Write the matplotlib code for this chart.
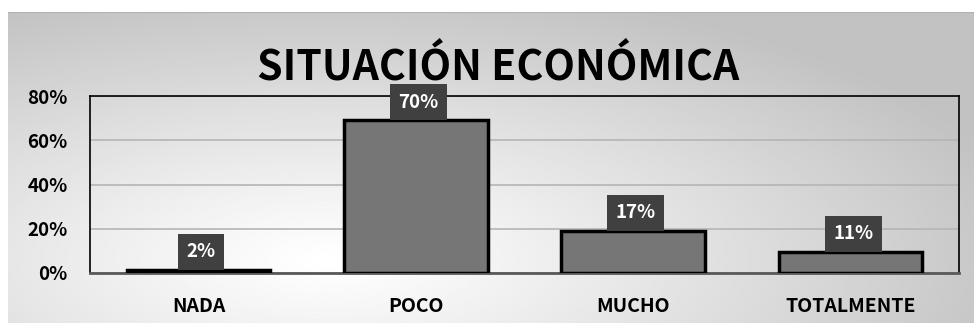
import numpy as np
import matplotlib
matplotlib.use('Agg')
import matplotlib.pyplot as plt
import matplotlib.ticker as ticker

plt.rcParams['font.family'] = ['Noto Sans CJK SC', 'DejaVu Sans']
plt.rcParams['font.weight'] = 'bold'

categories = ['NADA', 'POCO', 'MUCHO', 'TOTALMENTE']
values = [0.015, 0.69, 0.19, 0.095]
value_labels = ['2%', '70%', '17%', '11%']
title = 'SITUACIÓN ECONÓMICA'

W, H = 974, 331
fig = plt.figure(figsize=(W / 100, H / 100), dpi=100)

# radial grey background of the chart area
bg = fig.add_axes([8 / W, 8 / H, (W - 8) / W, (H - 20) / H])
bg.set_axis_off()
gx, gy = np.meshgrid(np.linspace(0, 1, 400), np.linspace(0, 1, 200))
r = np.sqrt(((gx - 0.33) / 0.75) ** 2 + ((gy - 0.2) / 0.9) ** 2)
shade = 1.0 - 0.24 * np.clip(r, 0, 1) ** 1.1
bg.imshow(shade, cmap='gray', vmin=0, vmax=1, aspect='auto',
          extent=[0, 1, 0, 1], origin='lower')
bg.set_xlim(0, 1)
bg.set_ylim(0, 1)
bg.plot([0, 1], [1, 1], color='#b0b0b0', lw=1.5)

ax = fig.add_axes([90 / W, (H - 273) / H, 869 / W, 177 / H])
ax.patch.set_alpha(0)
x = np.arange(len(categories))
ax.bar(x, values, width=0.66, color='#767676', edgecolor='black', linewidth=2.5, zorder=3)
ax.set_xlim(-0.5, len(categories) - 0.5)
ax.set_ylim(0, 0.8)
ax.yaxis.set_major_locator(ticker.MultipleLocator(0.2))
ax.yaxis.set_major_formatter(ticker.PercentFormatter(1.0, decimals=0))
ax.grid(axis='y', color='#b5b5b5', linewidth=1.2, zorder=0)
ax.set_xticks(x)
ax.set_xticklabels(categories, fontsize=14, fontweight='bold')
ax.tick_params(axis='x', length=0, pad=17)
ax.tick_params(axis='y', length=0, pad=16, labelsize=13.5)
for s in ['top', 'left', 'right']:
    ax.spines[s].set_color('black')
    ax.spines[s].set_linewidth(1.2)
ax.spines['bottom'].set_color('#595959')
ax.spines['bottom'].set_linewidth(2)

for xi, v, lab in zip(x, values, value_labels):
    ax.annotate(lab, (xi, v), xytext=(2, 13), textcoords='offset points',
                ha='center', va='center', color='white', fontsize=13.5,
                fontweight='bold', zorder=5,
                bbox=dict(boxstyle='square,pad=0.45', facecolor='#404040',
                          edgecolor='none'))

fig.text(498.5 / W, 1 - 80 / H, title, ha='center', va='baseline', fontsize=29.5,
         fontweight='bold', color='black')

fig.savefig('out.png', dpi=100)
